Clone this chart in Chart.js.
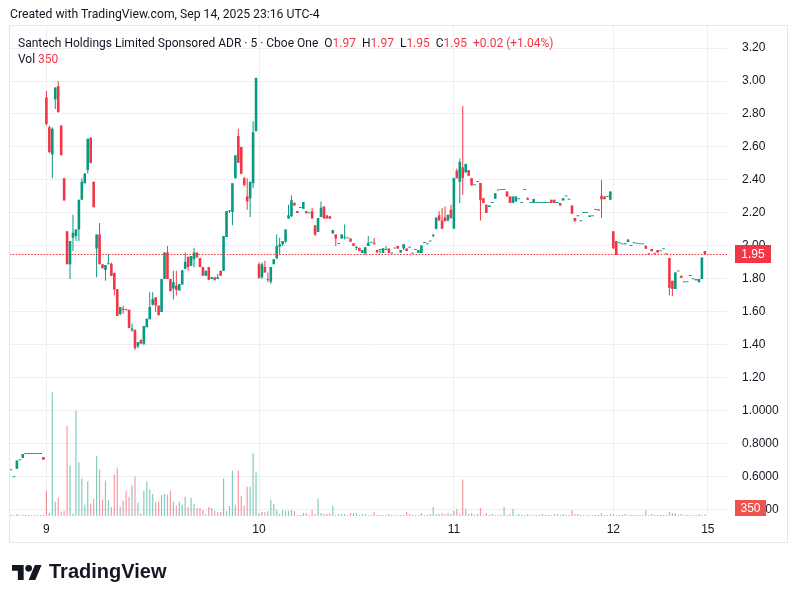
<!DOCTYPE html>
<html>
<head>
<meta charset="utf-8">
<title>Santech Holdings Limited Sponsored ADR - 5 min</title>
<script src="https://cdn.jsdelivr.net/npm/chart.js@4.4.1/dist/chart.umd.min.js"></script>
<style>
  html, body { margin: 0; padding: 0; background: #fff; }
  #page { position: relative; width: 798px; height: 603px; overflow: hidden; color: #131722; font-family: Roboto, "Liberation Sans", sans-serif; }
  #chart { position: absolute; left: 0; top: 0; }
  .line { position: absolute; white-space: pre; }
  #created { left: 10px; top: 7px; font-size: 12.2px; line-height: 14px; }
  #title { left: 18px; top: 35px; font-size: 12px; line-height: 16px; }
  #vol { left: 18px; top: 51px; font-size: 12px; line-height: 16px; }
  .v { color: #F23645; }
  .g { margin-left: 6px; }
  #logo { position: absolute; left: 12px; top: 565px; }
  #brand { left: 49px; top: 559px; font: bold 20px "Liberation Sans", Arial, sans-serif; line-height: 24px; }
</style>
</head>
<body>
<div id="page">
  <canvas id="chart" width="798" height="603"></canvas>
  <div class="line" id="created">Created with TradingView.com, Sep 14, 2025 23:16 UTC-4</div>
  <div class="line" id="title">Santech Holdings Limited Sponsored ADR · 5 · Cboe One<span class="g">O<span class="v" id="lo"></span></span><span class="g">H<span class="v" id="lh"></span></span><span class="g">L<span class="v" id="ll"></span></span><span class="g">C<span class="v" id="lc"></span></span><span class="g v" id="lchg"></span></div>
  <div class="line" id="vol">Vol <span class="v" id="lv"></span></div>
  <svg id="logo" width="30" height="15" viewBox="0 4 36 18"><path fill="#131722" d="M14 22H7V11H0V4h14v18zM28 22h-8l7.5-18h8L28 22z"/><circle fill="#131722" cx="20" cy="8" r="4"/></svg>
  <div class="line" id="brand">TradingView</div>
</div>
<script>
// 5-minute candles per session, [open, high, low, close]
const sep8 = [
  [0.641,0.641,0.641,0.641],[0.598,0.598,0.598,0.598],[0.65,0.70,0.65,0.70],[0.701,0.701,0.701,0.701],
  [0.715,0.739,0.715,0.739],[0.739,0.739,0.739,0.739],[0.739,0.739,0.739,0.739],[0.739,0.739,0.739,0.739],
  [0.739,0.739,0.739,0.739],[0.739,0.739,0.739,0.739],[0.739,0.739,0.739,0.739],[0.721,0.721,0.705,0.705]
];
const sep9 = [
  [2.90,2.94,2.73,2.74],[2.72,2.73,2.56,2.57],[2.555,2.72,2.41,2.71],[2.89,2.96,2.83,2.96],
  [2.97,3.00,2.81,2.81],[2.73,2.73,2.55,2.55],[2.41,2.41,2.275,2.275],[2.09,2.09,1.89,1.89],
  [1.89,2.03,1.80,2.03],[2.05,2.19,1.97,2.08],[2.06,2.10,2.03,2.10],[2.10,2.28,2.03,2.28],
  [2.28,2.41,2.28,2.39],[2.38,2.44,2.38,2.44],[2.46,2.65,2.44,2.65],[2.655,2.66,2.50,2.505],
  [2.39,2.39,2.235,2.235],[1.985,2.07,1.81,2.07],[2.07,2.14,1.89,1.89],[1.89,1.89,1.865,1.865],
  [1.855,1.885,1.79,1.885],[1.89,1.95,1.89,1.895],[1.893,1.90,1.818,1.818],[1.836,1.84,1.70,1.737],
  [1.738,1.74,1.576,1.576],[1.588,1.63,1.58,1.63],[1.62,1.64,1.59,1.612],[1.615,1.615,1.61,1.61],
  [1.614,1.614,1.503,1.503],[1.49,1.53,1.48,1.50],[1.493,1.493,1.37,1.382],[1.392,1.418,1.38,1.418],
  [1.432,1.432,1.408,1.408],[1.408,1.515,1.40,1.515],[1.507,1.559,1.507,1.559],[1.556,1.72,1.556,1.63],
  [1.644,1.72,1.64,1.677],[1.689,1.689,1.60,1.64],[1.64,1.64,1.58,1.58],[1.60,1.80,1.60,1.80],
  [1.80,1.96,1.80,1.96],[1.96,2.00,1.80,1.80],[1.80,1.80,1.725,1.725],[1.742,1.85,1.675,1.782],
  [1.76,1.85,1.70,1.735],[1.73,1.77,1.73,1.77],[1.767,1.853,1.767,1.853],[1.862,1.96,1.86,1.905],
  [1.935,1.935,1.85,1.873],[1.88,1.94,1.88,1.94],[1.92,1.99,1.87,1.96],[1.96,1.96,1.93,1.93],
  [1.927,1.927,1.873,1.873],[1.873,1.873,1.82,1.82],[1.82,1.85,1.82,1.85],[1.873,1.873,1.795,1.795],
  [1.80,1.81,1.80,1.81],[1.81,1.81,1.79,1.795],[1.80,1.83,1.80,1.81],[1.85,1.85,1.82,1.82],
  [1.85,2.06,1.85,2.06],[2.054,2.212,2.054,2.212],[2.21,2.215,2.20,2.215],[2.206,2.38,2.125,2.38],
  [2.41,2.55,2.41,2.55],[2.667,2.71,2.505,2.505],[2.60,2.60,2.438,2.438],[2.41,2.42,2.36,2.37],
  [2.30,2.41,2.22,2.27],[2.29,2.39,2.176,2.39],[2.38,2.756,2.35,2.69],[2.695,3.02,2.695,3.018]
];
const sep10 = [
  [1.89,1.90,1.80,1.808],[1.81,1.90,1.80,1.89],[1.873,1.91,1.84,1.84],[1.80,1.84,1.78,1.795],
  [1.783,1.873,1.77,1.873],[1.89,1.92,1.89,1.92],[1.925,2.07,1.92,2.00],[1.995,2.05,1.95,2.01],
  [2.01,2.03,2.00,2.03],[2.027,2.10,2.02,2.10],[2.166,2.25,2.165,2.186],[2.18,2.307,2.175,2.277],
  [2.26,2.265,2.245,2.245],[2.212,2.212,2.20,2.20],[2.23,2.23,2.23,2.23],[2.226,2.267,2.226,2.267],
  [2.21,2.21,2.198,2.198],[2.198,2.198,2.198,2.198],[2.21,2.23,2.166,2.166],[2.125,2.125,2.06,2.07],
  [2.085,2.17,2.085,2.17],[2.176,2.27,2.176,2.232],[2.24,2.24,2.166,2.166],[2.186,2.186,2.166,2.166],
  [2.18,2.18,2.165,2.165],[2.075,2.097,2.075,2.097],[2.07,2.07,2.00,2.045],[2.012,2.012,2.012,2.012],
  [2.045,2.07,2.045,2.07],[2.05,2.13,2.04,2.05],[2.045,2.045,2.045,2.045],[2.046,2.046,2.025,2.025],
  [2.016,2.016,2.00,2.00],[1.99,2.00,1.975,1.99],[1.99,1.99,1.97,1.97],[1.957,1.975,1.957,1.975],
  [1.955,1.993,1.95,1.993],[2.00,2.06,2.00,2.02],[2.02,2.02,2.02,2.02],[2.02,2.05,2.01,2.01],
  [1.975,1.975,1.96,1.96],[1.975,1.98,1.955,1.975],[1.957,1.987,1.957,1.987],[1.975,2.00,1.975,1.975],
  [1.985,1.985,1.957,1.957],[1.955,1.955,1.955,1.955],[1.985,1.985,1.985,1.985],[2.00,2.00,1.985,1.985],
  [1.96,1.975,1.96,1.975],[1.985,2.01,1.975,2.01],[1.985,1.985,1.97,1.97],[1.99,1.99,1.99,1.99],
  [1.955,1.955,1.955,1.955],[1.975,1.975,1.975,1.975],[1.957,1.975,1.957,1.975],[1.957,2.003,1.957,2.003],
  [2.018,2.018,2.018,2.018],[2.01,2.01,2.01,2.01],[2.028,2.028,2.028,2.028],[2.06,2.075,2.055,2.06],
  [2.105,2.172,2.10,2.172],[2.186,2.21,2.155,2.155],[2.155,2.23,2.105,2.105],[2.172,2.24,2.15,2.15],
  [2.155,2.19,2.15,2.19],[2.22,2.25,2.165,2.17]
];
const sep11 = [
  [2.105,2.412,2.105,2.412],[2.456,2.47,2.41,2.41],[2.39,2.53,2.26,2.51],[2.478,2.849,2.31,2.412],
  [2.445,2.50,2.445,2.497],[2.46,2.46,2.426,2.426],[2.41,2.41,2.366,2.366],[2.368,2.368,2.368,2.368],
  [2.388,2.388,2.388,2.388],[2.382,2.382,2.155,2.277],[2.29,2.29,2.26,2.26],[2.25,2.25,2.20,2.20],
  [2.236,2.246,2.236,2.246],[2.26,2.26,2.26,2.26],[2.287,2.32,2.287,2.32],[2.337,2.337,2.337,2.337],
  [2.34,2.34,2.34,2.34],[2.34,2.34,2.34,2.34],[2.33,2.33,2.30,2.30],[2.30,2.30,2.26,2.26],
  [2.26,2.30,2.26,2.30],[2.27,2.30,2.27,2.30],[2.283,2.283,2.283,2.283],[2.26,2.26,2.26,2.26],
  [2.34,2.34,2.34,2.34],[2.29,2.295,2.28,2.28],[2.26,2.26,2.26,2.26],[2.26,2.285,2.26,2.285],
  [2.26,2.26,2.26,2.26],[2.26,2.26,2.26,2.26],[2.26,2.26,2.26,2.26],[2.26,2.26,2.26,2.26],
  [2.26,2.26,2.26,2.26],[2.28,2.28,2.26,2.26],[2.28,2.28,2.26,2.26],[2.26,2.26,2.26,2.26],
  [2.26,2.26,2.245,2.245],[2.275,2.29,2.275,2.29],[2.30,2.30,2.30,2.30],[2.28,2.28,2.28,2.28],
  [2.245,2.245,2.195,2.195],[2.17,2.17,2.15,2.15],[2.18,2.18,2.18,2.18],[2.15,2.15,2.15,2.15],
  [2.20,2.20,2.20,2.20],[2.20,2.20,2.20,2.20],[2.175,2.185,2.175,2.185],[2.18,2.18,2.18,2.18],
  [2.218,2.218,2.218,2.218],[2.222,2.222,2.215,2.215],[2.305,2.40,2.17,2.283],[2.30,2.30,2.283,2.283],
  [2.297,2.297,2.297,2.297],[2.28,2.33,2.28,2.33]
];
const sep12 = [
  [2.09,2.09,1.985,1.985],[2.03,2.03,1.946,1.946],[2.017,2.017,2.017,2.017],[2.01,2.01,2.01,2.01],
  [2.01,2.017,2.01,2.017],[2.024,2.04,2.024,2.04],[2.00,2.00,2.00,2.00],[2.017,2.017,2.017,2.017],
  [2.013,2.013,2.013,2.013],[2.01,2.01,2.01,2.01],[2.01,2.01,2.01,2.01],[2.002,2.002,1.984,1.984],
  [1.95,1.95,1.95,1.95],[1.982,1.982,1.968,1.968],[1.953,1.953,1.953,1.953],[1.975,1.975,1.96,1.96],
  [1.968,1.968,1.968,1.968],[1.98,1.98,1.98,1.98],[1.95,1.95,1.95,1.95],[1.927,1.927,1.70,1.745],
  [1.79,1.79,1.697,1.74],[1.74,1.84,1.74,1.84],[1.846,1.846,1.846,1.846],[1.82,1.82,1.808,1.808],
  [1.78,1.78,1.78,1.78],[1.78,1.78,1.78,1.78],[1.818,1.818,1.818,1.818],[1.798,1.798,1.798,1.798],
  [1.80,1.80,1.79,1.792],[1.78,1.80,1.78,1.80],[1.80,1.93,1.80,1.93],[1.97,1.97,1.95,1.95]
];

// volume per bar, same order
const vol8 = [300,250,450,200,300,150,200,150,200,150,150,250];
const vol9 = [5680,680,27700,3180,4090,980,1140,20200,11350,520,23600,12030,8400,2500,7790,2790,3860,13390,
  10440,3700,7950,3630,2040,9310,10670,2040,3400,5680,4310,6810,8850,2950,680,5680,7720,5900,4930,3180,3180,
  4770,4990,4770,5680,3180,2340,3180,2500,4310,2040,4090,2720,1820,1820,1360,450,2040,1820,1140,910,910,8400,
  1140,2270,10220,2500,10220,4540,2270,6580,6580,14070,9760];
const vol10 = [680,910,910,1140,3630,2720,1360,450,1360,1140,1140,1360,1140,230,230,680,680,230,1360,450,3860,
  680,450,450,680,2270,230,450,450,450,230,680,680,680,230,450,450,230,230,910,230,230,230,230,450,230,230,230,
  230,230,910,450,230,230,230,680,230,230,450,2040,450,450,680,450,680,450];
const vol11 = [1140,1590,450,8170,1590,450,680,230,450,1820,230,680,230,450,230,230,230,2040,230,450,1590,230,
  450,230,230,450,230,230,230,230,450,230,230,230,450,450,230,450,230,230,1360,450,450,230,230,230,230,230,230,
  230,680,230,230,450];
const vol12 = [450,230,230,230,450,230,230,230,230,230,230,1360,230,450,230,230,230,230,230,910,680,680,230,450,
  230,230,230,230,230,450,230,350];

// time axis labels
const dayNames = ['8', '9', '10', '11', '12'];
const nextDay = '15';
const futureSlots = 7;

const GREEN = '#089981';
const RED = '#F23645';
const GRID = '#efeff2';

const sessions = [sep8, sep9, sep10, sep11, sep12];
const candles = sessions.flat();
const volume = [vol8, vol9, vol10, vol11, vol12].flat();

const categories = [];
sessions.forEach((s, d) => s.forEach((c, j) => categories.push(d > 0 && j === 0 ? dayNames[d] : '')));
for (let k = 0; k < futureSlots; k++) categories.push(k === 0 ? nextDay : '');

const isUp = c => c[3] >= c[0];
const candleColors = candles.map(c => isUp(c) ? GREEN : RED);
const volColors = candles.map(c => isUp(c) ? 'rgba(8,153,129,0.5)' : 'rgba(242,54,69,0.5)');

const last = candles[candles.length - 1];
const prev = candles[candles.length - 2];
const lastVol = volume[volume.length - 1];
const chg = last[3] - prev[3];
document.getElementById('lo').textContent = last[0].toFixed(2);
document.getElementById('lh').textContent = last[1].toFixed(2);
document.getElementById('ll').textContent = last[2].toFixed(2);
document.getElementById('lc').textContent = last[3].toFixed(2);
document.getElementById('lchg').textContent = '+' + chg.toFixed(2) + ' (+' + (chg / prev[3] * 100).toFixed(2) + '%)';
document.getElementById('lv').textContent = lastVol;

function tag(ctx, x, cy, w, h, color, text) {
  ctx.fillStyle = color;
  ctx.fillRect(x, Math.round(cy - h / 2), w, h);
  ctx.fillStyle = '#fff';
  ctx.font = '12px "Liberation Sans", Arial, sans-serif';
  ctx.textAlign = 'center';
  ctx.textBaseline = 'middle';
  ctx.fillText(text, x + w / 2, Math.round(cy) + 1);
}

const overlay = {
  id: 'overlay',
  afterDatasetsDraw(chart) {
    const { ctx, chartArea: a, scales: { y } } = chart;
    const py = Math.round(y.getPixelForValue(last[3])) + 0.5;
    ctx.save();
    ctx.strokeStyle = RED;
    ctx.lineWidth = 1.2;
    ctx.setLineDash([1.6, 1.5]);
    ctx.beginPath();
    ctx.moveTo(a.left, py);
    ctx.lineTo(a.right, py);
    ctx.stroke();
    ctx.restore();
  },
  afterDraw(chart) {
    const { ctx, chartArea: a, scales: { y, yv } } = chart;
    ctx.save();
    ctx.strokeStyle = '#e6e7ea';
    ctx.lineWidth = 1;
    ctx.strokeRect(9.5, 25.5, 778, 517);
    tag(ctx, a.right + 8, y.getPixelForValue(last[3]), 36, 18, RED, last[3].toFixed(2));
    const vy = Math.min(yv.getPixelForValue(lastVol), a.bottom - 8);
    tag(ctx, a.right + 8, vy, 31, 16, '#ef5350', String(lastVol));
    ctx.restore();
  }
};

new Chart(document.getElementById('chart'), {
  type: 'bar',
  data: {
    labels: categories,
    datasets: [
      { label: 'Volume', data: volume, yAxisID: 'yv', backgroundColor: volColors,
        barThickness: 1.2, minBarLength: 1, grouped: false, inflateAmount: 0, order: 3 },
      { label: 'Wick', data: candles.map(c => [c[2], c[1]]), yAxisID: 'y', backgroundColor: candleColors,
        barThickness: 1, grouped: false, inflateAmount: 0, order: 2 },
      { label: 'Body', data: candles.map(c => [c[0], c[3]]), yAxisID: 'y', backgroundColor: candleColors,
        barThickness: 2.6, minBarLength: 1, grouped: false, inflateAmount: 0, order: 1 }
    ]
  },
  options: {
    responsive: false,
    devicePixelRatio: 1,
    animation: false,
    layout: { padding: { left: 9.5, right: 10, top: 25, bottom: 60 } },
    plugins: { legend: { display: false }, tooltip: { enabled: false } },
    scales: {
      x: {
        grid: { color: GRID, offset: false, drawTicks: false },
        border: { display: false },
        ticks: { autoSkip: false, maxRotation: 0, minRotation: 0, padding: 6, color: '#131722',
          font: { family: '"Liberation Sans", Arial, sans-serif', size: 12 } },
        afterBuildTicks: s => { s.ticks = s.ticks.filter(t => categories[t.value] !== ''); },
        afterFit: s => { s.height = 27; }
      },
      y: {
        position: 'right',
        min: 0.3636,
        max: 3.3394,
        grid: { color: GRID, drawTicks: false },
        border: { display: false },
        ticks: { stepSize: 0.2, includeBounds: false, padding: 15, color: '#131722',
          font: { family: '"Liberation Sans", Arial, sans-serif', size: 12 },
          callback: v => v >= 1.1 ? v.toFixed(2) : v.toFixed(4) },
        afterFit: s => { s.width = 61; }
      },
      yv: { display: false, min: 0, max: 110000 }
    }
  },
  plugins: [overlay]
});
</script>
</body>
</html>
